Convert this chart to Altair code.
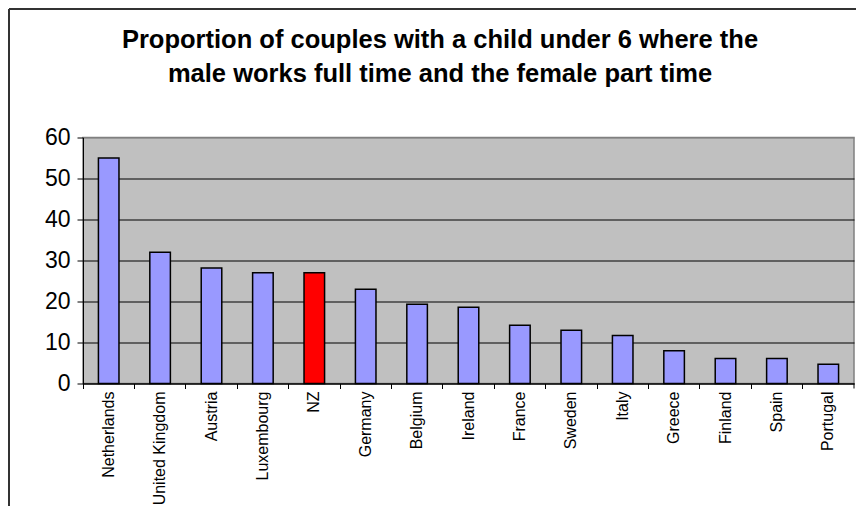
import altair as alt
import pandas as pd

countries = ["Netherlands", "United Kingdom", "Austria", "Luxembourg", "NZ",
             "Germany", "Belgium", "Ireland", "France", "Sweden", "Italy",
             "Greece", "Finland", "Spain", "Portugal"]
values = [55, 32, 28.2, 27, 27, 23, 19.3, 18.6, 14.2, 13, 11.7, 8, 6.1, 6.1, 4.7]
highlight = ["NZ"]
title_lines = ["Proportion of couples with a child under 6 where the",
               "male works full time and the female part time"]
y_ticks = [0, 10, 20, 30, 40, 50, 60]

df = pd.DataFrame({"country": countries, "value": values})
df["hl"] = df["country"].isin(highlight)

W, H = 771, 246
PL, PT = 83, 137.5

bars = alt.Chart(df).mark_bar(
    width=alt.RelativeBandSize(0.4), stroke="black", strokeWidth=1.5
).encode(
    x=alt.X("country:N", sort=countries,
            scale=alt.Scale(paddingInner=0, paddingOuter=0),
            axis=alt.Axis(title=None, labelAngle=-90, labelFontSize=16,
                          labelFont="Liberation Sans", labelColor="black",
                          tickSize=5, tickColor="black", domainColor="black",
                          labelPadding=2.5, bandPosition=0, grid=False)),
    y=alt.Y("value:Q", scale=alt.Scale(domain=[0, 60], nice=False),
            axis=alt.Axis(title=None, values=y_ticks, labelFontSize=23,
                          labelFont="Liberation Sans", labelColor="black",
                          tickSize=6, tickColor="black", domainColor="black",
                          labelPadding=7, grid=True,
                          gridColor={"condition": {"test": "datum.value === 60", "value": "#808080"},
                                     "value": "black"},
                          gridOpacity=1)),
    color=alt.Color("hl:N", scale=alt.Scale(domain=[False, True], range=["#9999FF", "#FF0000"]),
                    legend=None),
)

one = pd.DataFrame({"a": [0]})
left_border = alt.Chart(one).mark_rule(color="#333333", strokeWidth=2).encode(
    x=alt.value(9 - PL), y=alt.value(9 - PT), y2=alt.value(520 - PT))
top_border = alt.Chart(one).mark_rule(color="#333333", strokeWidth=2).encode(
    x=alt.value(9 - PL), x2=alt.value(870 - PL), y=alt.value(9 - PT))
end_tick = alt.Chart(one).mark_rule(color="black", strokeWidth=1).encode(
    x=alt.value(W), y=alt.value(H), y2=alt.value(H + 5))

chart = alt.layer(bars, left_border, top_border, end_tick).properties(
    width=W, height=H,
    autosize=alt.AutoSizeParams(type="none"),
    padding={"left": PL, "top": PT, "right": 856 - PL - W, "bottom": 506 - PT - H},
    title=alt.TitleParams(text=title_lines, font="Liberation Sans", fontSize=25.5,
                          fontWeight="bold", color="black", anchor="middle",
                          dx=-28.5, offset=0, dy=104, lineHeight=34, baseline="bottom"),
).configure_view(fill="#C0C0C0", stroke="#808080", strokeWidth=1.5)

chart.save("out.html", embed_options={"renderer": "svg", "actions": False})
